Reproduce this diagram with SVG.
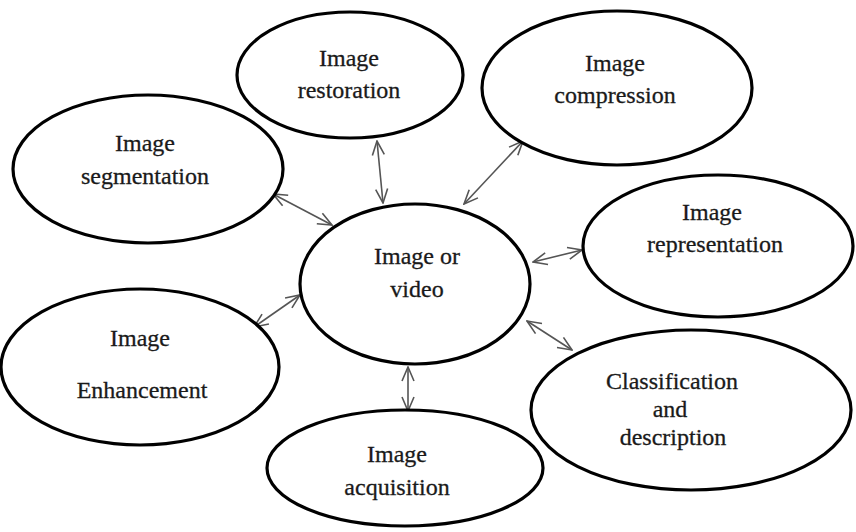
<svg xmlns="http://www.w3.org/2000/svg" width="856" height="532" viewBox="0 0 856 532">
<style>
.n ellipse{fill:#fff;stroke:#000;stroke-width:3.2}
.n text{font-family:"Liberation Serif","Times New Roman",serif;font-size:24px;fill:#1a1a1a;stroke:#1a1a1a;stroke-width:0.3;text-anchor:middle}
.c line{stroke:#555;stroke-width:1.6;marker-start:url(#ah);marker-end:url(#ah)}
</style>
<defs>
<marker id="ah" viewBox="0 0 16 14" refX="15" refY="7" markerWidth="16" markerHeight="14" markerUnits="userSpaceOnUse" orient="auto-start-reverse">
<path d="M1,1 L15,7 L1,13" fill="none" stroke="#555" stroke-width="1.6"/>
</marker>
</defs>
<rect width="856" height="532" fill="#fff"/>
<g class="c" id="connectors">
<line x1="383" y1="203" x2="377" y2="141"/>
<line x1="464" y1="204" x2="523" y2="141"/>
<line x1="332" y1="225" x2="273" y2="194"/>
<line x1="533" y1="262" x2="582" y2="250"/>
<line x1="300" y1="295" x2="254" y2="327"/>
<line x1="527" y1="321" x2="572" y2="350"/>
<line x1="408" y1="367" x2="408" y2="411"/>
</g>
<g class="n" id="restoration">
<ellipse cx="350" cy="75" rx="113" ry="63"/>
<text x="349" y="66">Image</text>
<text x="349" y="98">restoration</text>
</g>
<g class="n" id="compression">
<ellipse cx="617" cy="88" rx="135" ry="77"/>
<text x="615" y="71">Image</text>
<text x="615" y="103">compression</text>
</g>
<g class="n" id="segmentation">
<ellipse cx="148" cy="169" rx="135" ry="74"/>
<text x="145" y="151">Image</text>
<text x="145" y="184">segmentation</text>
</g>
<g class="n" id="representation">
<ellipse cx="718" cy="246" rx="135" ry="71"/>
<text x="712" y="220">Image</text>
<text x="715" y="252">representation</text>
</g>
<g class="n" id="center">
<ellipse cx="415" cy="284" rx="115" ry="80"/>
<text x="417" y="264">Image or</text>
<text x="417" y="297">video</text>
</g>
<g class="n" id="enhancement">
<ellipse cx="140" cy="367" rx="139" ry="78"/>
<text x="140" y="346">Image</text>
<text x="142" y="398">Enhancement</text>
</g>
<g class="n" id="classification">
<ellipse cx="691" cy="410" rx="160" ry="80"/>
<text x="672" y="389">Classification</text>
<text x="670" y="417">and</text>
<text x="673" y="445">description</text>
</g>
<g class="n" id="acquisition">
<ellipse cx="405" cy="468" rx="138" ry="58"/>
<text x="397" y="462">Image</text>
<text x="397" y="495">acquisition</text>
</g>
</svg>
